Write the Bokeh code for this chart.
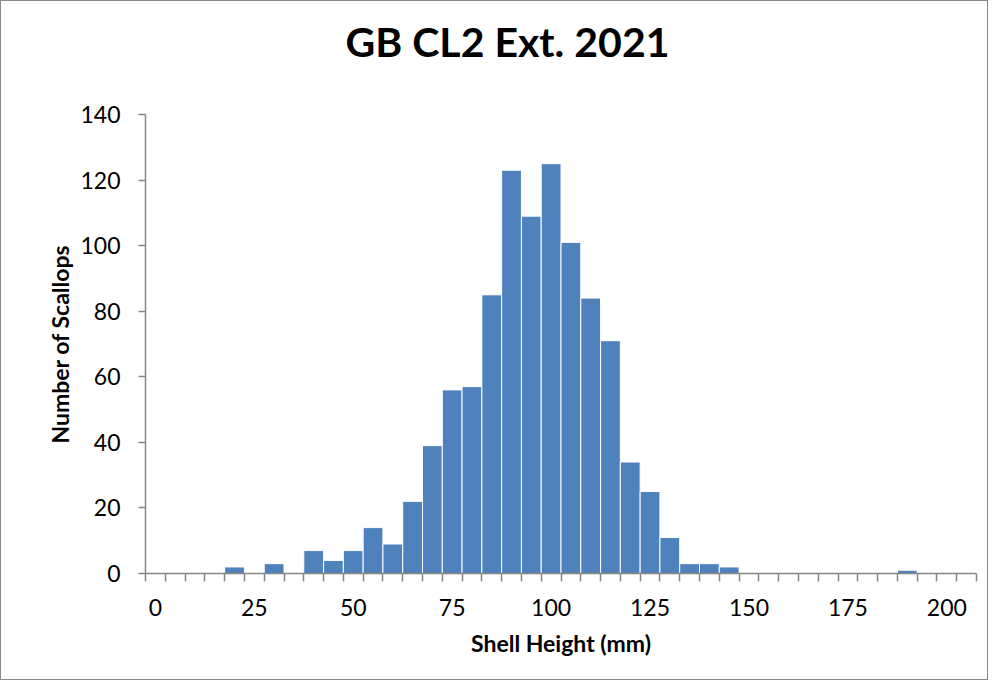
from bokeh.plotting import figure
from bokeh.models import Range1d, FixedTicker, ColumnDataSource
from bokeh.embed import file_html
from bokeh.resources import INLINE

# Data: bin start (mm) and count of scallops
bins = [20, 30, 40, 45, 50, 55, 60, 65, 70, 75, 80, 85, 90, 95, 100, 105, 110,
        115, 120, 125, 130, 135, 140, 145, 190]
counts = [2, 3, 7, 4, 7, 14, 9, 22, 39, 56, 57, 85, 123, 109, 125, 101, 84,
          71, 34, 25, 11, 3, 3, 2, 1]
x_tick_labels = [0, 25, 50, 75, 100, 125, 150, 175, 200]
y_ticks = [0, 20, 40, 60, 80, 100, 120, 140]
bin_width = 5
n_cats = 42  # categories 0..205

title = "GB CL2 Ext. 2021"
x_title = "Shell Height (mm)"
y_title = "Number of Scallops"

FONT = "Lato"
AXIS_GRAY = "#868686"

p = figure(width=988, height=680, output_backend="svg", toolbar_location=None,
           x_range=Range1d(-bin_width / 2, (n_cats - 0.5) * bin_width),
           y_range=Range1d(0, 140),
           min_border_left=144, min_border_right=13, min_border_top=113,
           min_border_bottom=108)

# trailing blank line lifts the title well above the plot frame
p.title.text = title + "\n "
p.title.align = "left"
p.title.offset = 200
p.title.standoff = 0
p.title.text_font = FONT
p.title.text_font_size = "41px"
p.title.text_font_style = "bold"
p.title.text_color = "black"

src = ColumnDataSource(dict(x=bins, top=counts))
p.vbar(x="x", top="top", width=bin_width, bottom=0, source=src,
       fill_color="#4F81BD", line_color="white", line_width=1)

p.xgrid.visible = False
p.ygrid.visible = False
p.outline_line_color = None

xa = p.xaxis[0]
boundaries = [(i - 0.5) * bin_width for i in range(n_cats + 1)]
xa.ticker = FixedTicker(ticks=x_tick_labels, minor_ticks=boundaries)
xa.major_tick_out = 0
xa.major_tick_in = 0
xa.minor_tick_out = 8
xa.minor_tick_in = 0
xa.minor_tick_line_color = AXIS_GRAY
xa.minor_tick_line_width = 1.5
xa.axis_line_color = AXIS_GRAY
xa.axis_line_width = 1.5
xa.major_label_text_font = FONT
xa.major_label_text_font_size = "23px"
xa.major_label_text_color = "black"
xa.major_label_standoff = 17
xa.axis_label = x_title
xa.axis_label_text_font = FONT
xa.axis_label_text_font_size = "23px"
xa.axis_label_text_font_style = "bold"
xa.axis_label_text_color = "black"
xa.axis_label_standoff = 10

ya = p.yaxis[0]
ya.ticker = FixedTicker(ticks=y_ticks, minor_ticks=[])
ya.major_tick_out = 7
ya.major_tick_in = 0
ya.major_tick_line_color = AXIS_GRAY
ya.major_tick_line_width = 1.5
ya.minor_tick_out = 0
ya.axis_line_color = AXIS_GRAY
ya.axis_line_width = 1.5
ya.major_label_text_font = FONT
ya.major_label_text_font_size = "23px"
ya.major_label_text_color = "black"
ya.major_label_standoff = 18
ya.axis_label = y_title
ya.axis_label_text_font = FONT
ya.axis_label_text_font_size = "23px"
ya.axis_label_text_font_style = "bold"
ya.axis_label_text_color = "black"
ya.axis_label_standoff = 3

p.styles = {"border": "1px solid #888888"}

open("out.html", "w").write(file_html(p, INLINE))
